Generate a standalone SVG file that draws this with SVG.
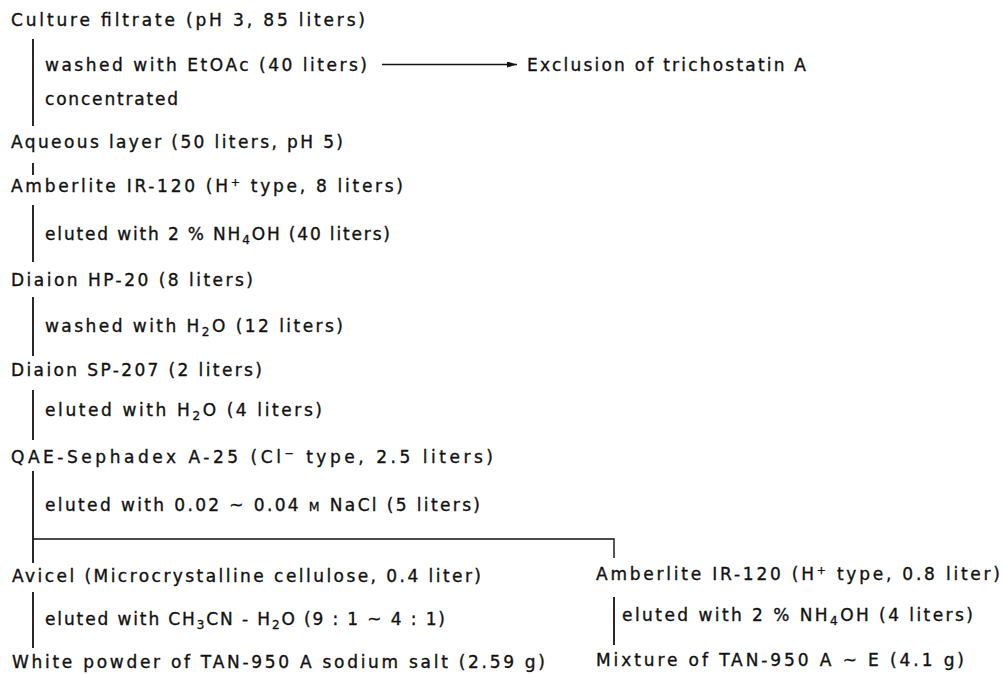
<svg xmlns="http://www.w3.org/2000/svg" width="1003" height="674" viewBox="0 0 1003 674">
<style>
text{font-family:"DejaVu Sans","Liberation Sans",sans-serif;font-size:17px;fill:#111;stroke:#111;stroke-width:0.35;}
.sup{font-size:11px;baseline-shift:6px;}
.sub{font-size:12px;baseline-shift:-4px;}
.sc{font-size:12.5px;}
.v{stroke:#111;stroke-width:1.8;fill:none;}
.h{stroke:#111;stroke-width:1.4;fill:none;}
</style>
<defs>
<marker id="ah" viewBox="0 0 10 6" refX="10" refY="3" markerWidth="10" markerHeight="6" markerUnits="userSpaceOnUse" orient="auto">
<path d="M0,0 L10,3 L0,6 Z" fill="#111"/>
</marker>
</defs>
<rect width="1003" height="674" fill="#fff"/>
<g id="connectors">
<line class="v" x1="33" y1="39" x2="33" y2="126"/>
<line class="h" x1="382" y1="64.5" x2="517" y2="64.5" marker-end="url(#ah)"/>
<line class="v" x1="33" y1="163" x2="33" y2="175"/>
<line class="v" x1="33" y1="205" x2="33" y2="262"/>
<line class="v" x1="33" y1="297" x2="33" y2="356"/>
<line class="v" x1="33" y1="390" x2="33" y2="440"/>
<line class="v" x1="33" y1="471" x2="33" y2="563"/>
<polyline class="h" points="33,539 614,539 614,558"/>
<line class="v" x1="33" y1="592" x2="33" y2="648"/>
<line class="v" x1="614" y1="597" x2="614" y2="645"/>
<g id="step-labels">
<text x="45" y="71" textLength="322" lengthAdjust="spacing">washed with EtOAc (40 liters)</text>
<text x="45" y="105" textLength="133" lengthAdjust="spacing">concentrated</text>
<text x="45" y="240" textLength="345" lengthAdjust="spacing">eluted with 2 % NH<tspan class="sub">4</tspan>OH  (40 liters)</text>
<text x="45" y="332" textLength="298" lengthAdjust="spacing">washed with H<tspan class="sub">2</tspan>O  (12 liters)</text>
<text x="45" y="416" textLength="277" lengthAdjust="spacing">eluted with H<tspan class="sub">2</tspan>O  (4 liters)</text>
<text x="45" y="511" textLength="435" lengthAdjust="spacing">eluted with 0.02 ~ 0.04 <tspan class="sc">M</tspan> NaCl (5 liters)</text>
<text x="45" y="625" textLength="400" lengthAdjust="spacing">eluted with CH<tspan class="sub">3</tspan>CN - H<tspan class="sub">2</tspan>O  (9 : 1 ~ 4 : 1)</text>
<text x="622" y="621" textLength="351" lengthAdjust="spacing">eluted with 2 % NH<tspan class="sub">4</tspan>OH  (4 liters)</text>
</g>
</g>
<g id="culture-filtrate"><text x="11" y="26" textLength="354" lengthAdjust="spacing">Culture filtrate (pH  3,  85 liters)</text></g>
<g id="exclusion"><text x="527" y="71" textLength="279" lengthAdjust="spacing">Exclusion of trichostatin A</text></g>
<g id="aqueous-layer"><text x="11" y="148" textLength="332" lengthAdjust="spacing">Aqueous layer (50 liters, pH  5)</text></g>
<g id="amberlite-1"><text x="11" y="192" textLength="392" lengthAdjust="spacing">Amberlite IR-120 (H<tspan class="sup">+</tspan> type,  8 liters)</text></g>
<g id="diaion-hp20"><text x="11" y="286" textLength="242" lengthAdjust="spacing">Diaion HP-20 (8 liters)</text></g>
<g id="diaion-sp207"><text x="11" y="376" textLength="251" lengthAdjust="spacing">Diaion SP-207 (2 liters)</text></g>
<g id="qae-sephadex"><text x="11" y="463" textLength="482" lengthAdjust="spacing">QAE-Sephadex A-25 (Cl<tspan class="sup">−</tspan> type,  2.5 liters)</text></g>
<g id="avicel"><text x="12" y="582" textLength="469" lengthAdjust="spacing">Avicel (Microcrystalline cellulose,  0.4 liter)</text></g>
<g id="white-powder"><text x="12" y="668" textLength="533" lengthAdjust="spacing">White powder of TAN-950 A sodium salt (2.59 g)</text></g>
<g id="amberlite-2"><text x="596" y="580" textLength="404" lengthAdjust="spacing">Amberlite IR-120 (H<tspan class="sup">+</tspan> type,  0.8 liter)</text></g>
<g id="mixture"><text x="596" y="666" textLength="368" lengthAdjust="spacing">Mixture of TAN-950 A ~ E (4.1 g)</text></g>
</svg>
